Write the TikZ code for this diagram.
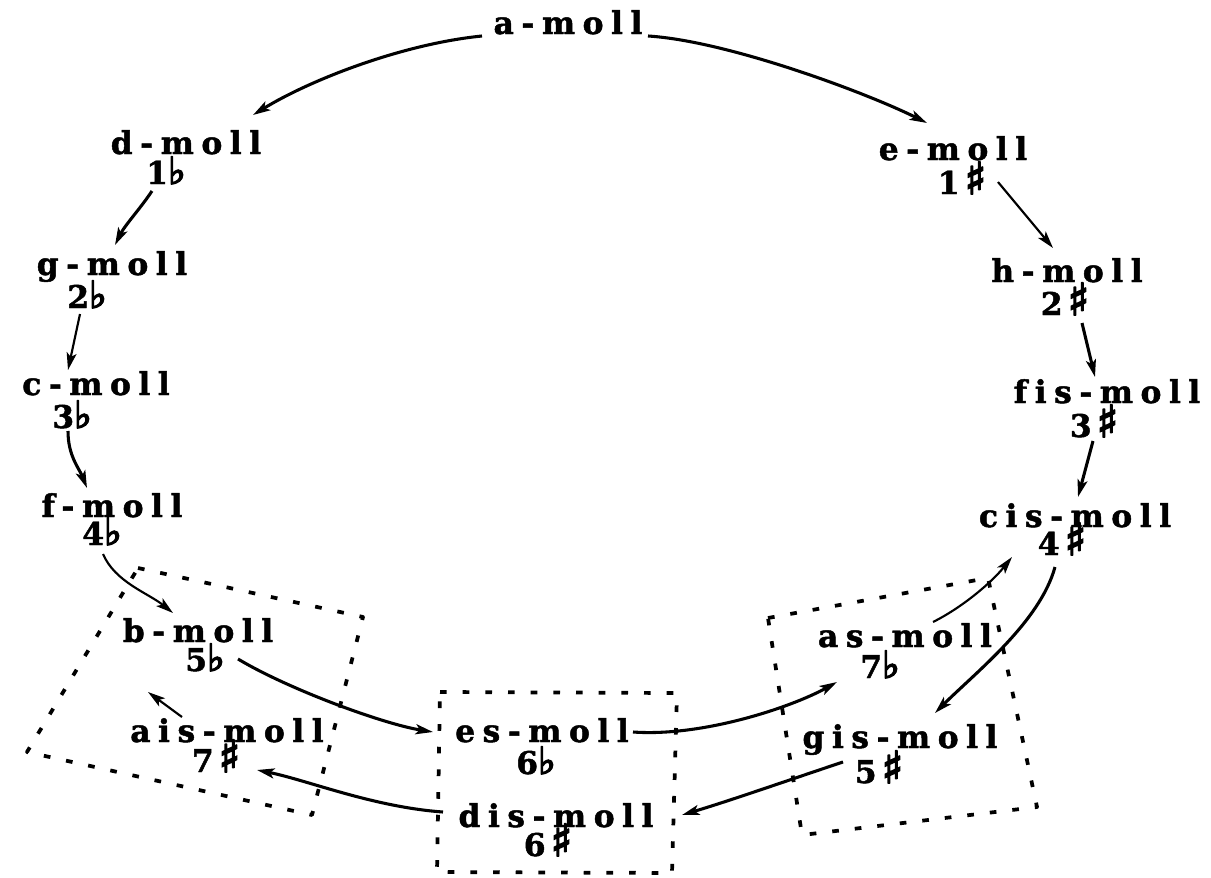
\documentclass[tikz,border=0pt]{standalone}
\usepackage{fontspec}
\newfontfamily\keyfont{DejaVu Serif}[LetterSpace=24, Ligatures=NoCommon, BoldFeatures={FakeBold=1.5}]
\newfontfamily\symfont{DejaVu Sans}[FakeBold=4]
\usetikzlibrary{arrows.meta}
\newcommand{\fl}{{\symfont\fontsize{28}{28}\selectfont ♭}}
\newcommand{\sh}{\,{\symfont\fontsize{33}{33}\selectfont ♯}}
\tikzset{
  keylbl/.style={font=\keyfont\bfseries\fontsize{23.5}{25}\selectfont, inner sep=0pt, anchor=base},
  arr/.style={line width=2.3pt, -{Stealth[length=13pt,width=7.5pt,inset=3pt]}},
  thinarr/.style={arr, line width=1.6pt},
  dotbox/.style={line width=2.8pt, dash pattern=on 5pt off 12pt, line join=round},
}
\begin{document}
\begin{tikzpicture}[x=0.75pt,y=-0.75pt]
\useasboundingbox[fill=white] (0,0) rectangle (1211,878);
% dotted frames
\draw[dotbox] (138,568) -- (363,617) -- (312,815) -- (27,752) -- cycle;
\draw[dotbox] (440,692) -- (677,693) -- (672,873) -- (437,872) -- cycle;
\draw[dotbox] (768,618) -- (988,578) -- (1037,807) -- (802,835) -- cycle;
% keys
\node[keylbl] (am) at (568,34) {a-moll};
\node[keylbl] (dm) at (186,154) {d-moll};
\node[keylbl] (d1) at (166,184) {1\fl};
\node[keylbl] (em) at (953,160) {e-moll};
\node[keylbl] (e1) at (962,194) {1\sh};
\node[keylbl] (gm) at (112,275) {g-moll};
\node[keylbl] (g2) at (87,308) {2\fl};
\node[keylbl] (hm) at (1067,282) {h-moll};
\node[keylbl] (h2) at (1065,315) {2\sh};
\node[keylbl] (cm) at (96,395) {c-moll};
\node[keylbl] (c3) at (72,428) {3\fl};
\node[keylbl] (fism) at (1107,403) {fis-moll};
\node[keylbl] (fis3) at (1094,437) {3\sh};
\node[keylbl] (fm) at (112,517) {f-moll};
\node[keylbl] (f4) at (102,545) {4\fl};
\node[keylbl] (cism) at (1075,527) {cis-moll};
\node[keylbl] (cis4) at (1062,555) {4\sh};
\node[keylbl] (bm) at (198,642) {b-moll};
\node[keylbl] (b5) at (205,671) {5\fl};
\node[keylbl] (aism) at (227,742) {ais-moll};
\node[keylbl] (ais7) at (216,772) {7\sh};
\node[keylbl] (esm) at (542,742) {es-moll};
\node[keylbl] (es6) at (536,774) {6\fl};
\node[keylbl] (dism) at (556,827) {dis-moll};
\node[keylbl] (dis6) at (548,856) {6\sh};
\node[keylbl] (asm) at (905,647) {as-moll};
\node[keylbl] (as7) at (880,678) {7\fl};
\node[keylbl] (gism) at (900,748) {gis-moll};
\node[keylbl] (gis5) at (879,783) {5\sh};
% connectors
\draw[arr] ([shift={(-86,2)}]am.base) .. controls +(-80,8) and +(57,-35) .. ([shift={(67,-39)}]dm.base);
\draw[arr] ([shift={(80,2)}]am.base) .. controls +(80,5) and +(-60,-30) .. ([shift={(-26,-37)}]em.base);
\draw[arr] ([shift={(-14,7)}]d1.base) .. controls +(-12,18) and +(10,-20) .. ([shift={(3,-30)}]gm.base);
\draw[thinarr] ([shift={(36,-12)}]e1.base) -- ([shift={(-14,-34)}]hm.base);
\draw[thinarr] ([shift={(-7,6)}]g2.base) -- ([shift={(-28,-25)}]cm.base);
\draw[arr] ([shift={(17,8)}]h2.base) -- ([shift={(-12,-26)}]fism.base);
\draw[arr] ([shift={(-4,3)}]c3.base) .. controls +(0,25) and +(-8,-20) .. ([shift={(-25,-29)}]fm.base);
\draw[arr] ([shift={(-1,4)}]fis3.base) -- ([shift={(3,-30)}]cism.base);
\draw[thinarr] ([shift={(1,9)}]f4.base) .. controls +(12,28) and +(-25,-20) .. ([shift={(-25,-29)}]bm.base);
\draw[arr] ([shift={(-7,12)}]cis4.base) .. controls +(-15,55) and +(40,-40) .. ([shift={(35,-35)}]gism.base);
\draw[arr] ([shift={(33,-12)}]b5.base) .. controls +(50,30) and +(-50,-8) .. ([shift={(-109,-10)}]esm.base);
\draw[arr] ([shift={(91,-10)}]esm.base) .. controls +(70,5) and +(-45,25) .. ([shift={(-68,35)}]asm.base);
\draw[thinarr] ([shift={(28,-25)}]asm.base) .. controls +(30,-15) and +(-20,25) .. ([shift={(-50,2)}]cis4.base);
\draw[arr] ([shift={(-36,-21)}]gis5.base) .. controls +(-60,20) and +(50,-15) .. ([shift={(126,-12)}]dism.base);
\draw[arr] ([shift={(-113,-15)}]dism.base) .. controls +(-70,-5) and +(50,10) .. ([shift={(41,-2)}]ais7.base);
\draw[thinarr] ([shift={(-45,-25)}]aism.base) -- ([shift={(-50,50)}]bm.base);
\end{tikzpicture}
\end{document}
